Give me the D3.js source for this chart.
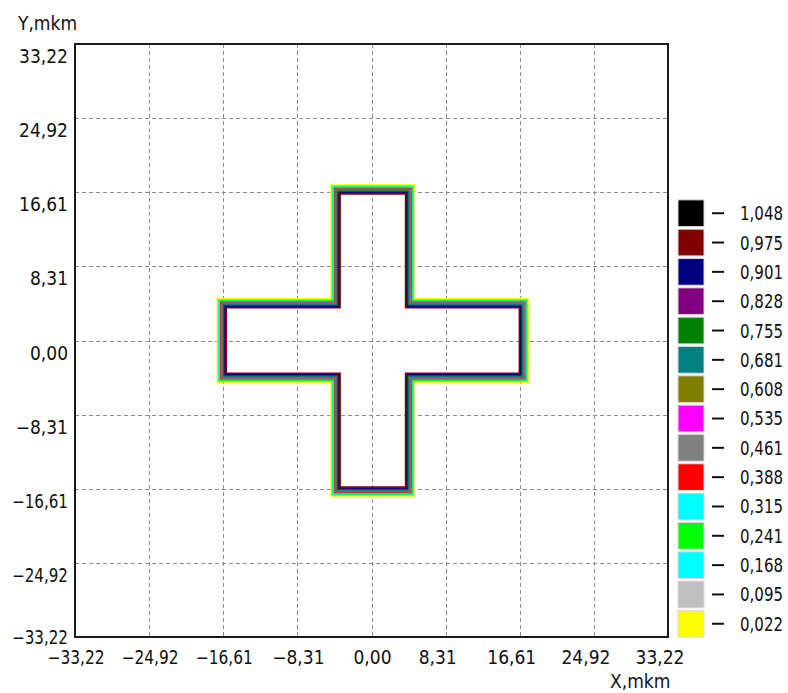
<!DOCTYPE html>
<html lang="en">
  <head>
    <meta charset="utf-8">
    <title>Cross contour</title>
    <style>
      body { margin: 0; background: #fff; }
      svg { display: block; background: #fff; }
      .lbl {
        font-family: "Liberation Sans Narrow", "DejaVu Sans Condensed", "Arial Narrow", sans-serif;
        font-size: 19px;
        fill: #111;
      }
    </style>
  </head>
  <body>
    <div id="chart"></div>
  </body>
  <script src="https://cdnjs.cloudflare.com/ajax/libs/d3/7.8.5/d3.min.js"></script>
  <script>

    // axis ticks (mkm)
    const xTicks = [-33.22, -24.92, -16.61, -8.31, 0, 8.31, 16.61, 24.92, 33.22]
    const yTicks = [-33.22, -24.92, -16.61, -8.31, 0, 8.31, 16.61, 24.92, 33.22]

    // contour levels, top to bottom as in the legend
    const levels = [1.048, 0.975, 0.901, 0.828, 0.755, 0.681, 0.608, 0.535, 0.461, 0.388, 0.315, 0.241, 0.168, 0.095, 0.022]
    const levelColors = ['#000000', '#800000', '#000080', '#800080', '#008000', '#008080', '#808000',
      '#ff00ff', '#808080', '#ff0000', '#00ffff', '#00ff00', '#00ffff', '#c0c0c0', '#ffff00']

    // cross shaped object (mkm): half width of the arms, half length of the arms, centre
    const armHalfWidth = 4.15
    const armHalfLength = 16.9
    const crossCenter = [0.15, 0.0]

    // where each level sits relative to the cross edge (mkm, + is outside)
    // 1.048 never reached -> no line
    const levelOffsets = [null, -0.48, -0.38, -0.30, -0.23, -0.16, -0.09, -0.02, 0.05, 0.12, 0.19, 0.26, 0.34, 0.42, 0.52]

    const width = 788
    const height = 693
    const plot = { left: 75, right: 668, top: 44, bottom: 637 }

    const svg = d3.select('#chart')
      .append('svg')
      .attr('width', width)
      .attr('height', height)

    const x = d3.scaleLinear().domain([-33.22, 33.22]).range([plot.left, plot.right])
    const y = d3.scaleLinear().domain([-33.22, 33.22]).range([plot.bottom, plot.top])

    const fmt = v => d3.format('.2f')(v).replace('.', ',')
    const fmtLevel = v => d3.format('.3f')(v).replace('.', ',')

    // squeeze a text to a max width (the original uses a very narrow font)
    function squeeze(sel, maxW) {
      sel.each(function () {
        const len = this.getComputedTextLength()
        if (len > maxW) {
          d3.select(this).attr('textLength', maxW).attr('lengthAdjust', 'spacingAndGlyphs')
        }
      })
    }

    // grid
    const grid = svg.append('g')
    grid.selectAll('.vgrid')
      .data(xTicks.slice(1, -1))
      .join('line')
      .attr('x1', d => Math.round(x(d)) + 0.5)
      .attr('x2', d => Math.round(x(d)) + 0.5)
      .attr('y1', plot.top)
      .attr('y2', plot.bottom)
      .attr('stroke', '#8c8c8c')
      .attr('stroke-dasharray', '4,3')
    grid.selectAll('.hgrid')
      .data(yTicks.slice(1, -1))
      .join('line')
      .attr('y1', d => Math.round(y(d)) + 0.5)
      .attr('y2', d => Math.round(y(d)) + 0.5)
      .attr('x1', plot.left)
      .attr('x2', plot.right)
      .attr('stroke', '#8c8c8c')
      .attr('stroke-dasharray', '4,3')

    // contour lines: cross outline pushed out/in by the level offset
    function crossOutline(d) {
      const w = armHalfWidth + d
      const l = armHalfLength + d
      const [cx, cy] = crossCenter
      const pts = [
        [w, l], [w, w], [l, w], [l, -w], [w, -w], [w, -l],
        [-w, -l], [-w, -w], [-l, -w], [-l, w], [-w, w], [-w, l]
      ]
      return pts.map(p => [x(cx + p[0]), y(cy + p[1])])
    }
    const line = d3.line().curve(d3.curveLinearClosed)

    const contourData = levels
      .map((v, i) => ({ value: v, color: levelColors[i], offset: levelOffsets[i] }))
      .filter(d => d.offset !== null)
      .sort((a, b) => b.offset - a.offset)

    svg.append('g')
      .selectAll('path')
      .data(contourData)
      .join('path')
      .attr('d', d => line(crossOutline(d.offset)))
      .attr('fill', 'none')
      .attr('stroke', d => d.color)
      .attr('stroke-width', 1.6)

    // frame
    svg.append('rect')
      .attr('x', plot.left)
      .attr('y', plot.top)
      .attr('width', plot.right - plot.left)
      .attr('height', plot.bottom - plot.top)
      .attr('fill', 'none')
      .attr('stroke', '#1a1a1a')
      .attr('stroke-width', 2)

    // y tick labels (sit just under their grid line)
    svg.selectAll('.ylab')
      .data(yTicks)
      .join('text')
      .attr('class', 'lbl')
      .attr('text-anchor', 'end')
      .attr('x', plot.left - 7)
      .attr('y', (d, i) => y(d) + (i === 0 ? 7 : 19))
      .text(fmt)
      .call(squeeze, 56)

    // x tick labels
    svg.selectAll('.xlab')
      .data(xTicks)
      .join('text')
      .attr('class', 'lbl')
      .attr('text-anchor', 'middle')
      .attr('x', d => x(d) + (d > 0 ? -8 : 1))
      .attr('y', plot.bottom + 27)
      .text(fmt)
      .call(squeeze, 57)

    // axis titles
    svg.append('text').attr('class', 'lbl')
      .attr('x', 18).attr('y', 30)
      .text('Y,mkm')
    svg.append('text').attr('class', 'lbl')
      .attr('x', 610).attr('y', 688)
      .text('X,mkm')

    // legend
    const ly = d3.scaleBand()
      .domain(levels)
      .range([199, 638])
      .paddingInner(0.09)
      .paddingOuter(0.03)

    const legend = svg.append('g')
    const items = legend.selectAll('g')
      .data(levels)
      .join('g')
      .attr('transform', d => `translate(0, ${ly(d)})`)

    items.append('rect')
      .attr('x', 678)
      .attr('width', 26)
      .attr('height', ly.bandwidth())
      .attr('fill', (d, i) => levelColors[i])
      .attr('stroke', '#d8d8d8')
      .attr('stroke-width', 1)

    items.append('line')
      .attr('x1', 712)
      .attr('x2', 724)
      .attr('y1', ly.bandwidth() / 2)
      .attr('y2', ly.bandwidth() / 2)
      .attr('stroke', '#111')
      .attr('stroke-width', 2)

    items.append('text')
      .attr('class', 'lbl')
      .attr('x', 740)
      .attr('y', ly.bandwidth() / 2 + 7)
      .text(fmtLevel)
      .call(squeeze, 43)

  </script>
</html>
